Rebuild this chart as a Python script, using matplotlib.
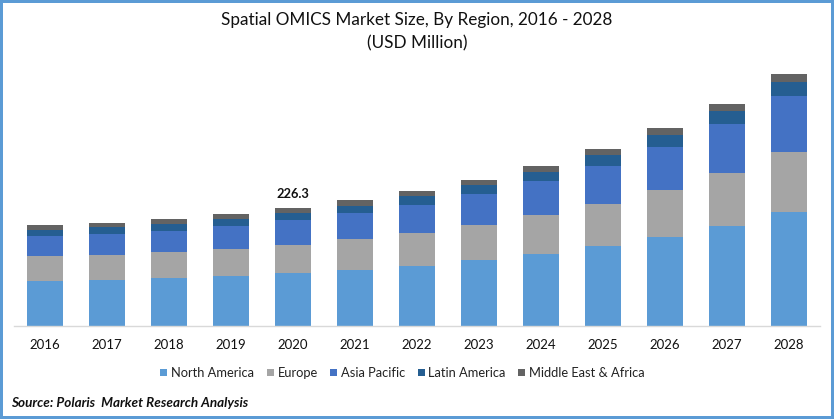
import matplotlib

matplotlib.use("Agg")
import matplotlib.pyplot as plt
import numpy as np

years = [2016, 2017, 2018, 2019, 2020, 2021, 2022, 2023, 2024, 2025, 2026, 2027, 2028]

# USD million (2020 total is labelled 226.3)
north_america = [86.3, 88.2, 92.1, 95.9, 101.6, 107.4, 115.1, 126.6, 138.1, 153.4, 170.7, 191.8, 218.6]
europe = [48.0, 48.0, 49.9, 51.8, 53.7, 59.5, 63.3, 67.1, 74.8, 80.6, 90.1, 101.6, 115.1]
asia_pacific = [38.4, 40.3, 40.3, 44.1, 48.0, 49.9, 53.7, 59.5, 65.2, 72.9, 82.5, 94.0, 107.4]
latin_america = [11.5, 13.4, 13.4, 13.4, 13.4, 13.4, 17.3, 17.3, 17.3, 21.1, 23.0, 24.9, 26.9]
middle_east = [9.6, 7.7, 9.6, 9.6, 9.6, 11.5, 9.6, 9.6, 11.5, 11.5, 13.4, 13.4, 15.3]

regions = ["North America", "Europe", "Asia Pacific", "Latin America", "Middle East & Africa"]
colors = ["#5B9BD5", "#A5A5A5", "#4472C4", "#255E91", "#636363"]

W, H = 834, 419
plt.rcParams["font.family"] = ["Lato", "DejaVu Sans"]

fig = plt.figure(figsize=(W / 100, H / 100), dpi=100, facecolor="white",
                 edgecolor="#5B9BD5", linewidth=3.2)
ax = fig.add_axes([14 / W, (H - 326) / H, 806 / W, 266 / H])

x = np.arange(len(years))
bottom = np.zeros(len(years))
for name, values, color in zip(regions, [north_america, europe, asia_pacific, latin_america, middle_east], colors):
    ax.bar(x, values, width=0.58, bottom=bottom, color=color, label=name)
    bottom += np.array(values)

ax.set_xlim(-0.5, len(years) - 0.5)
ax.set_ylim(0, 266 * 226.3 / 118)
ax.set_xticks(x)
ax.set_xticklabels(years, fontsize=9.5, color="#111111")
ax.tick_params(axis="x", length=0, pad=9)
ax.set_yticks([])
for side in ["top", "right", "left"]:
    ax.spines[side].set_visible(False)
ax.spines["bottom"].set_color("#D9D9D9")
ax.spines["bottom"].set_linewidth(1.0)

ax.annotate("226.3", (x[4], bottom[4]), xytext=(0, 8), textcoords="offset pixels",
            ha="center", va="bottom", fontsize=9.3, fontweight="bold", color="#111111")

fig.text(417 / W, 1 - 20 / H, "Spatial OMICS Market Size, By Region, 2016 - 2028",
         ha="center", va="center", fontsize=12.35, color="#111111")
fig.text(417 / W, 1 - 43 / H, "(USD Million)", ha="center", va="center", fontsize=12.35, color="#111111")

fig.legend(loc="center", bbox_to_anchor=(402.5 / W, 1 - 373 / H), ncol=5, frameon=False,
           fontsize=9.3, handlelength=0.55, handleheight=0.55, handletextpad=0.3,
           columnspacing=0.95, labelcolor="#222222")

fig.text(11 / W, 1 - 403 / H, "Source: Polaris  Market Research Analysis", ha="left", va="center",
         fontsize=9.75, fontweight="bold", fontstyle="italic", color="#111111")

fig.savefig("out.png", dpi=100, edgecolor=fig.get_edgecolor())
